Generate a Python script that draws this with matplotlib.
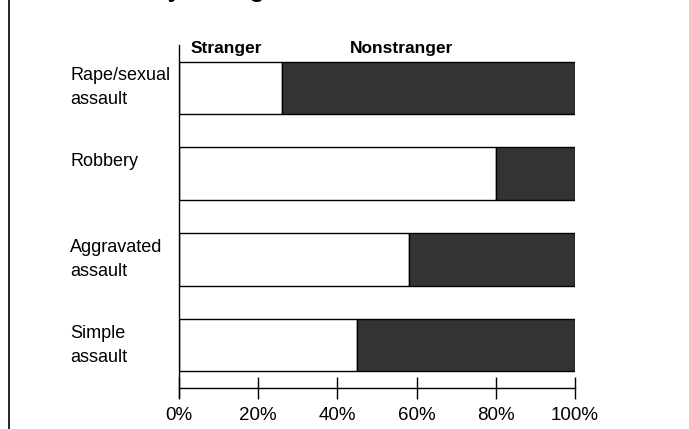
import matplotlib.pyplot as plt
from matplotlib.lines import Line2D
from matplotlib.transforms import blended_transform_factory

categories = ["Rape/sexual\nassault", "Robbery\n ", "Aggravated\nassault", "Simple\nassault"]
stranger = [26, 80, 58, 45]
nonstranger = [74, 20, 42, 55]
xticks = [0, 20, 40, 60, 80, 100]
xtick_labels = ["0%", "20%", "40%", "60%", "80%", "100%"]

W, H = 689, 429
fig = plt.figure(figsize=(W / 100, H / 100), dpi=100)
ax = fig.add_axes([179 / W, 1 - 388 / H, (575 - 179) / W, (388 - 45) / H])

y = list(range(len(categories)))
ax.barh(y, stranger, height=0.61, color="white", edgecolor="black", linewidth=1.0)
ax.barh(y, nonstranger, left=stranger, height=0.61, color="#333333", edgecolor="black", linewidth=1.0)

ax.set_xlim(0, 100)
ax.set_ylim(3.5, -0.5)
ax.set_xticks(xticks)
ax.set_xticklabels(xtick_labels, fontsize=13.5, family="Liberation Sans")
ax.tick_params(axis="x", direction="inout", length=16, width=1, pad=6, colors="black")
ax.set_yticks([])
for s in ["top", "right"]:
    ax.spines[s].set_visible(False)
ax.spines["left"].set_bounds(3.6, -0.5)
ax.spines["bottom"].set_linewidth(1)
ax.spines["left"].set_linewidth(1)

# category labels, left aligned
tr = blended_transform_factory(fig.transFigure, ax.transData)
for i, lab in enumerate(categories):
    ax.text(70 / W, i, lab, transform=tr, ha="left", va="center",
            fontsize=13, family="Liberation Sans", linespacing=1.55)

# header labels over the bars
hdr = dict(fontsize=12.5, fontweight="bold", fontstretch="condensed",
           family=["Liberation Sans Narrow", "DejaVu Sans Condensed", "Liberation Sans"],
           va="center", ha="center", transform=fig.transFigure)
fig.text(226 / W, 1 - 48 / H, "Stranger", **hdr)
fig.text(402 / W, 1 - 48 / H, "Nonstranger", **hdr)

# title, mostly clipped off the top
fig.text(43 / W, 1 + 3 / H, "Violence by stranger", fontsize=18, fontweight="bold",
         family="Liberation Sans", ha="left", va="baseline")

fig.add_artist(Line2D([8.5 / W, 8.5 / W], [0, 1], color="black", linewidth=1.2))

fig.savefig("out.png", dpi=100)
